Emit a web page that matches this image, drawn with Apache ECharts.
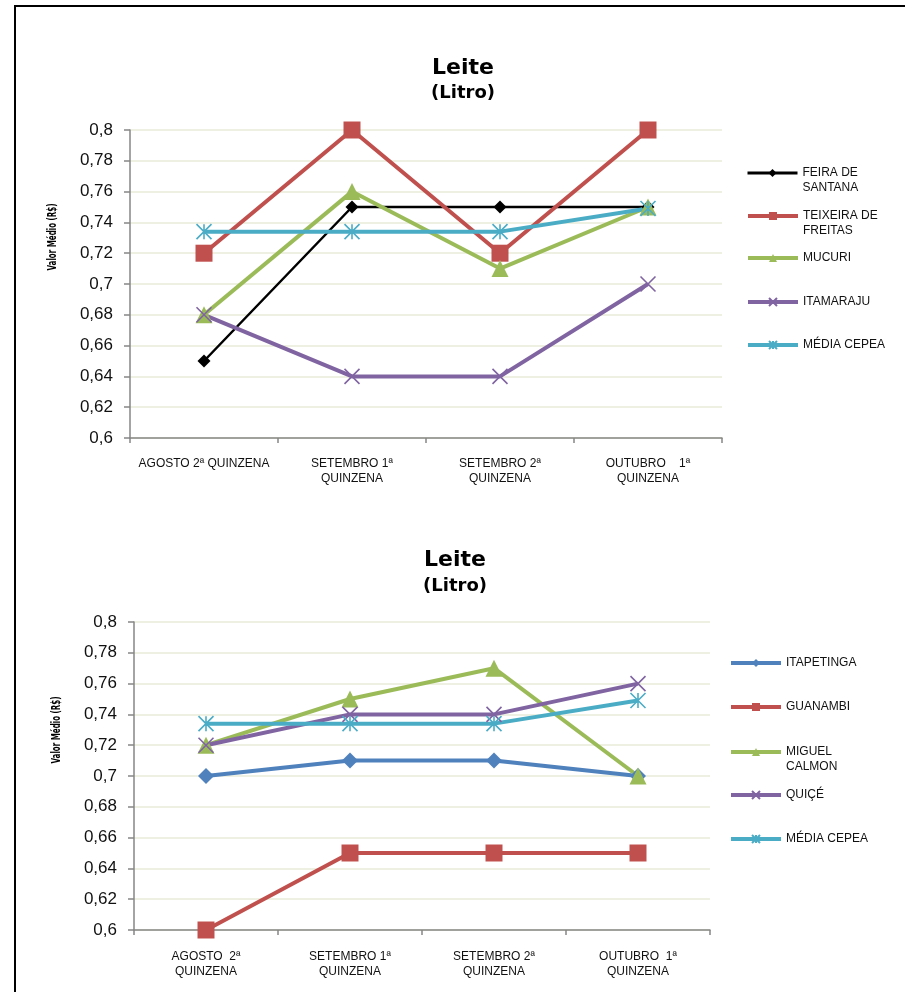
<!DOCTYPE html>
<html>
<head>
<meta charset="utf-8">
<script src="https://cdn.jsdelivr.net/npm/echarts@6/dist/echarts.min.js"></script>
<style>
  html, body { margin: 0; padding: 0; background: #fff; }
  #wrap { position: relative; width: 905px; height: 992px; overflow: hidden; }
  #top, #bottom { position: absolute; left: 0; width: 905px; height: 496px; }
  #top { top: 0; }
  #bottom { top: 496px; }
  #frame { position: absolute; left: 14px; top: 5px; width: 900px; height: 1000px;
           border-left: 2px solid #000; border-top: 2px solid #000; pointer-events: none; }
</style>
</head>
<body>
<div id="wrap">
  <div id="top"></div>
  <div id="bottom"></div>
  <div id="frame"></div>
</div>
<script>
// ---------- data ----------
const titleText = 'Leite';
const subtitleText = '(Litro)';
const yAxisTitle = 'Valor Médio (R$)';
const yMin = 0.6;
const yMax = 0.8;
const yStep = 0.02;

const categoriesTop = ['AGOSTO 2ª QUINZENA', 'SETEMBRO 1ª\nQUINZENA', 'SETEMBRO 2ª\nQUINZENA', 'OUTUBRO    1ª\nQUINZENA'];
const namesTop = ['FEIRA DE\nSANTANA', 'TEIXEIRA DE\nFREITAS', 'MUCURI', 'ITAMARAJU', 'MÉDIA CEPEA'];
const feiraDeSantana = [0.65, 0.75, 0.75, 0.75];
const teixeiraDeFreitas = [0.72, 0.80, 0.72, 0.80];
const mucuri = [0.68, 0.76, 0.71, 0.75];
const itamaraju = [0.68, 0.64, 0.64, 0.70];
const mediaCepeaTop = [0.734, 0.734, 0.734, 0.749];

const categoriesBottom = ['AGOSTO  2ª\nQUINZENA', 'SETEMBRO 1ª\nQUINZENA', 'SETEMBRO 2ª\nQUINZENA', 'OUTUBRO  1ª\nQUINZENA'];
const namesBottom = ['ITAPETINGA', 'GUANAMBI', 'MIGUEL\nCALMON', 'QUIÇÉ', 'MÉDIA CEPEA'];
const itapetinga = [0.70, 0.71, 0.71, 0.70];
const guanambi = [0.60, 0.65, 0.65, 0.65];
const miguelCalmon = [0.72, 0.75, 0.77, 0.70];
const quice = [0.72, 0.74, 0.74, 0.76];
const mediaCepeaBottom = [0.734, 0.734, 0.734, 0.749];

// ---------- styles ----------
const RED = '#c0504d', GREEN = '#9bbb59', PURPLE = '#8064a2', TEAL = '#4bacc6', BLUE = '#4f81bd', BLACK = '#000000';
const SYM_X = 'path://M0,0L10,10M10,0L0,10';
const SYM_STAR = 'path://M5,0L5,10M0,0L10,10M10,0L0,10';

function mkSeries(name, data, color, symbol, size, width, stroke) {
  return {
    type: 'line', name: name, data: data,
    symbol: symbol, symbolSize: size,
    showAllSymbol: true,
    lineStyle: { color: color, width: width },
    itemStyle: stroke ? { color: color, borderColor: color, borderWidth: 1.6 } : { color: color, borderWidth: 0 },
    emphasis: { disabled: true },
    animation: false
  };
}

function mkLegends(names, left, ys, widths) {
  return names.map(function (n, i) {
    const twoLine = n.indexOf('\n') >= 0;
    const h = twoLine ? 45 : 15;
    return {
      orient: 'vertical', left: left, top: ys[i] - h / 2, padding: 0,
      itemWidth: 50, itemHeight: 10,
      data: [n],
      formatter: function (name) { return name.indexOf('\n') >= 0 ? ' \n' + name : name; },
      lineStyle: { width: widths[i] },
      textStyle: { fontFamily: 'Liberation Sans', fontSize: 12, color: '#111', lineHeight: 15 }
    };
  });
}

function fmt(v) { return String(Math.round(v * 100) / 100).replace('.', ','); }

function build(el, o) {
  const chart = echarts.init(el, null, { renderer: 'canvas' });
  chart.setOption({
    backgroundColor: '#ffffff',
    animation: false,
    title: [
      { text: titleText, left: o.titleX, top: o.titleY, textAlign: 'center',
        textStyle: { fontFamily: 'DejaVu Sans', fontWeight: 'bold', fontSize: 22, color: '#000' } },
      { text: subtitleText, left: o.titleX, top: o.subY, textAlign: 'center',
        textStyle: { fontFamily: 'DejaVu Sans', fontWeight: 'bold', fontSize: 18, color: '#000' } }
    ],
    grid: { left: o.gridLeft, top: o.gridTop, width: o.gridWidth, height: 308, containLabel: false },
    xAxis: {
      type: 'category', data: o.categories, boundaryGap: true,
      axisLine: { lineStyle: { color: '#868686', width: 1.5 } },
      axisTick: { show: true, length: 5, lineStyle: { color: '#868686', width: 1.5 } },
      axisLabel: { margin: o.xMargin, interval: 0, color: '#111', fontFamily: 'Liberation Sans', fontSize: 12, lineHeight: 15 },
      splitLine: { show: false }
    },
    yAxis: {
      type: 'value', min: yMin, max: yMax, interval: yStep,
      axisLine: { show: true, lineStyle: { color: '#868686', width: 1.5 } },
      axisTick: { show: true, length: 6, lineStyle: { color: '#868686', width: 1.5 } },
      axisLabel: { margin: 17, color: '#111', fontFamily: 'Liberation Sans', fontSize: 17, formatter: fmt },
      splitLine: { show: true, lineStyle: { color: '#e9ebd8', width: 1.5 } }
    },
    legend: mkLegends(o.names, o.legendLeft, o.legendYs, o.legendWidths),
    graphic: [{
      type: 'text', x: o.nameX, y: o.nameY, rotation: Math.PI / 2, scaleX: 0.66,
      style: { text: yAxisTitle, font: 'bold 12px "DejaVu Sans Condensed", "DejaVu Sans"',
               fill: '#000', align: 'center', verticalAlign: 'middle' }
    }],
    series: o.series
  });
}

build(document.getElementById('top'), {
  titleX: 458, titleY: 52, subY: 79,
  gridLeft: 130, gridTop: 130, gridWidth: 592, xMargin: 18,
  categories: categoriesTop, names: namesTop,
  legendLeft: 746, legendYs: [173, 216, 258, 302, 345], legendWidths: [3, 4, 4, 4, 4],
  nameX: 53, nameY: 237,
  series: [
    mkSeries(namesTop[0], feiraDeSantana, BLACK, 'diamond', 13, 2.5, false),
    mkSeries(namesTop[1], teixeiraDeFreitas, RED, 'rect', 17, 4, false),
    mkSeries(namesTop[2], mucuri, GREEN, 'triangle', 17, 4, false),
    mkSeries(namesTop[3], itamaraju, PURPLE, SYM_X, 15, 4, true),
    mkSeries(namesTop[4], mediaCepeaTop, TEAL, SYM_STAR, 15, 4, true)
  ]
});

build(document.getElementById('bottom'), {
  titleX: 450, titleY: 48, subY: 76,
  gridLeft: 134, gridTop: 126, gridWidth: 576, xMargin: 19,
  categories: categoriesBottom, names: namesBottom,
  legendLeft: 729, legendYs: [167, 211, 256, 299, 343], legendWidths: [4, 4, 4, 4, 4],
  nameX: 57, nameY: 234,
  series: [
    mkSeries(namesBottom[0], itapetinga, BLUE, 'diamond', 16, 4, false),
    mkSeries(namesBottom[1], guanambi, RED, 'rect', 17, 4, false),
    mkSeries(namesBottom[2], miguelCalmon, GREEN, 'triangle', 17, 4, false),
    mkSeries(namesBottom[3], quice, PURPLE, SYM_X, 15, 4, true),
    mkSeries(namesBottom[4], mediaCepeaBottom, TEAL, SYM_STAR, 15, 4, true)
  ]
});
</script>
</body>
</html>
